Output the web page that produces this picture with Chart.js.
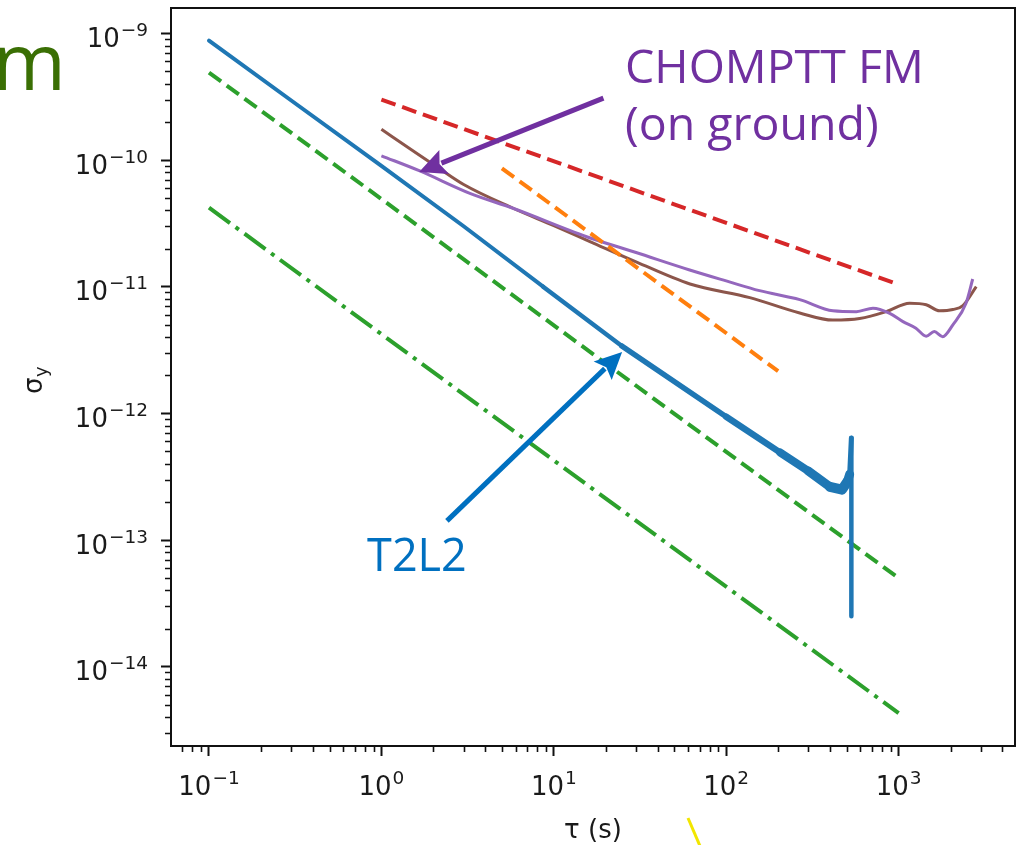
<!DOCTYPE html>
<html><head><meta charset="utf-8">
<script src="https://cdn.jsdelivr.net/npm/chart.js@4/dist/chart.umd.min.js"></script>
<style>html,body{margin:0;padding:0;background:#fff;}canvas{display:block;}</style>
</head><body>
<canvas id="c" width="1026" height="845"></canvas>
<script>
// ---- data (tau in s, sigma_y) ----
const t2l2Tau   = [0.1, 0.3, 1, 3, 8.67, 24.8, 100, 206, 300, 400, 470, 505, 520, 532, 532];
const t2l2Sigma = [8.75e-10, 2.95e-10, 9.0e-11, 3.0e-11, 1.0e-11, 3.4e-12, 9.4e-13, 4.9e-13, 3.5e-13, 2.63e-13, 2.5e-13, 2.9e-13, 3.3e-13, 6.4e-13, 2.5e-14];

const chompttTau   = [1, 1.67, 3.26, 5.8, 15.5, 30, 61.4, 100, 156, 267, 416, 569, 710, 888, 1060, 1260, 1446, 1610, 1800, 2064, 2460, 2690];
const chompttSigma = [1.08e-10, 8.2e-11, 5.46e-11, 4.16e-11, 2.48e-11, 1.86e-11, 1.355e-11, 1.11e-11, 9.3e-12, 7.9e-12, 6.45e-12, 6.35e-12, 6.76e-12, 6.16e-12, 5.3e-12, 4.7e-12, 4.07e-12, 4.42e-12, 4.03e-12, 5.0e-12, 7.4e-12, 1.15e-11];

const brownTau   = [1, 1.5, 2.09, 3, 5.8, 10, 16.2, 30, 61.6, 137, 267, 416, 594, 848, 1158, 1446, 1727, 2064, 2360, 2820];
const brownSigma = [1.75e-10, 1.2e-10, 8.85e-11, 6.4e-11, 4.16e-11, 3.03e-11, 2.27e-11, 1.57e-11, 1.05e-11, 8.2e-12, 6.2e-12, 5.45e-12, 5.6e-12, 6.35e-12, 7.4e-12, 7.2e-12, 6.45e-12, 6.6e-12, 7.1e-12, 1.0e-11];

const greenDashTau      = [0.1, 1000];
const greenDashSigma    = [4.9e-10, 5.0e-14];
const greenDashDotTau   = [0.1, 1000];
const greenDashDotSigma = [4.2e-11, 4.3e-15];
const redDashTau        = [1, 1000];
const redDashSigma      = [3.0e-10, 1.04e-11];
const orangeDashTau     = [5, 200];
const orangeDashSigma   = [8.6e-11, 2.15e-12];

// ---- tick labels (base and exponent) ----
const xTickValues    = [0.1, 1, 10, 100, 1000];
const xTickExponents = ['\u22121', '0', '1', '2', '3'];
const yTickValues    = [1e-14, 1e-13, 1e-12, 1e-11, 1e-10, 1e-9];
const yTickExponents = ['\u221214', '\u221213', '\u221212', '\u221211', '\u221210', '\u22129'];
const tickBase = '10';

// ---- annotations (in data coordinates) ----
const annot = {
  purpleArrow: {from: [19.4, 3.08e-10], to: [1.655, 8.03e-11]},
  blueArrow:   {from: [2.40, 1.415e-13], to: [24.9, 3.05e-12]},
  chomptt1:    {at: [25.9, 4.06e-10], text: 'CHOMPTT FM'},
  chomptt2:    {at: [25.9, 1.43e-10], text: '(on ground)'},
  t2l2:        {at: [0.826, 5.7e-14], text: 'T2L2'}
};

const pts = (xs, ys) => xs.map((x, i) => ({x, y: ys[i]}));
const isMajor = v => Math.abs(Math.log10(v) - Math.round(Math.log10(v))) < 1e-6;

function logTicks(scale) {
  const out = [];
  const lo = Math.floor(Math.log10(scale.min)), hi = Math.ceil(Math.log10(scale.max));
  for (let n = lo; n <= hi; n++) {
    for (let k = 1; k <= 9; k++) {
      const v = k * Math.pow(10, n);
      if (v >= scale.min * 0.9999 && v <= scale.max * 1.0001) out.push({value: v});
    }
  }
  scale.ticks = out;
}

function arrow(ctx, x0, y0, x1, y1, color, w, headLen, headHalf) {
  const dx = x1 - x0, dy = y1 - y0, L = Math.hypot(dx, dy), ux = dx / L, uy = dy / L;
  const bx = x1 - ux * headLen, by = y1 - uy * headLen;
  ctx.strokeStyle = color; ctx.lineWidth = w; ctx.lineCap = 'butt';
  ctx.beginPath(); ctx.moveTo(x0, y0); ctx.lineTo(bx + ux * 3, by + uy * 3); ctx.stroke();
  ctx.fillStyle = color;
  ctx.beginPath();
  ctx.moveTo(x1, y1);
  ctx.lineTo(bx - uy * headHalf, by + ux * headHalf);
  ctx.lineTo(bx + ux * 5, by + uy * 5);
  ctx.lineTo(bx + uy * headHalf, by - ux * headHalf);
  ctx.closePath(); ctx.fill();
}

const BASE_FONT = '26px "DejaVu Sans"', SUP_FONT = '18.5px "DejaVu Sans"', SUP_RAISE = 11;
function powLabelWidth(ctx, exp) {
  ctx.font = BASE_FONT; const wb = ctx.measureText(tickBase).width;
  ctx.font = SUP_FONT; const we = ctx.measureText(exp).width;
  return [wb, we];
}
function drawPowLabel(ctx, exp, left, baseline) {
  const [wb] = powLabelWidth(ctx, exp);
  ctx.textAlign = 'left'; ctx.textBaseline = 'alphabetic';
  ctx.font = BASE_FONT; ctx.fillText(tickBase, left, baseline);
  ctx.font = SUP_FONT; ctx.fillText(exp, left + wb + 1, baseline - SUP_RAISE);
}

const decoPlugin = {
  id: 'deco',
  afterDraw(chart) {
    const {ctx, chartArea: a, scales: {x, y}} = chart;
    const P = (d) => [x.getPixelForValue(d[0]), y.getPixelForValue(d[1])];
    ctx.save();
    // minor ticks
    ctx.strokeStyle = '#111'; ctx.lineWidth = 1.6;
    ctx.beginPath();
    x.ticks.forEach(t => { if (!isMajor(t.value)) { const px = Math.round(x.getPixelForValue(t.value)) + 0.5; ctx.moveTo(px, a.bottom); ctx.lineTo(px, a.bottom + 6); } });
    y.ticks.forEach(t => { if (!isMajor(t.value)) { const py = Math.round(y.getPixelForValue(t.value)) + 0.5; ctx.moveTo(a.left, py); ctx.lineTo(a.left - 6, py); } });
    ctx.stroke();
    // frame
    ctx.strokeStyle = '#111'; ctx.lineWidth = 2;
    ctx.strokeRect(a.left, a.top, a.right - a.left, a.bottom - a.top);

    // tick labels
    ctx.fillStyle = '#1a1a1a';
    xTickValues.forEach((v, i) => {
      const [wb, we] = powLabelWidth(ctx, xTickExponents[i]);
      const cx = x.getPixelForValue(v);
      drawPowLabel(ctx, xTickExponents[i], cx - (wb + we + 1) / 2, 795);
    });
    yTickValues.forEach((v, i) => {
      const [wb, we] = powLabelWidth(ctx, yTickExponents[i]);
      const py = y.getPixelForValue(v);
      drawPowLabel(ctx, yTickExponents[i], 148 - (wb + we + 1), py + 13.5);
    });

    // y-axis title sigma_y (rotated)
    ctx.save();
    ctx.translate(42, 394);
    ctx.rotate(-Math.PI / 2);
    ctx.fillStyle = '#1a1a1a';
    ctx.textBaseline = 'alphabetic'; ctx.textAlign = 'left';
    ctx.font = '26px "DejaVu Sans"';
    ctx.fillText('\u03C3', 0, 0);
    const w = ctx.measureText('\u03C3').width;
    ctx.font = '18px "DejaVu Sans"';
    ctx.fillText('y', w + 0.5, 5);
    ctx.restore();

    // arrows
    let p0 = P(annot.purpleArrow.from), p1 = P(annot.purpleArrow.to);
    arrow(ctx, p0[0], p0[1], p1[0], p1[1], '#7030a0', 5, 27, 13);
    p0 = P(annot.blueArrow.from); p1 = P(annot.blueArrow.to);
    arrow(ctx, p0[0], p0[1], p1[0], p1[1], '#0070c0', 5, 27, 13);

    // annotation texts
    ctx.textBaseline = 'alphabetic'; ctx.textAlign = 'left';
    ctx.font = '46.5px "Open Sans"';
    ctx.fillStyle = '#7030a0';
    let q = P(annot.chomptt1.at); ctx.fillText(annot.chomptt1.text, q[0], q[1]);
    q = P(annot.chomptt2.at); ctx.fillText(annot.chomptt2.text, q[0], q[1]);
    ctx.font = '45px "Open Sans"';
    ctx.fillStyle = '#0070c0';
    q = P(annot.t2l2.at); ctx.fillText(annot.t2l2.text, q[0], q[1]);

    // slide fragments outside the axes
    ctx.fillStyle = '#3a6f04';
    ctx.font = '79px "Open Sans"';
    ctx.textAlign = 'right';
    ctx.fillText('m', 66, 90);
    ctx.strokeStyle = '#f2e600'; ctx.lineWidth = 3;
    ctx.beginPath(); ctx.moveTo(688, 818); ctx.lineTo(700, 846); ctx.stroke();
    ctx.restore();
  }
};

const blueWidths = [4, 4, 4, 4, 4.5, 5.5, 6.5, 8, 9, 10, 10, 9, 5, 4.5];
const majorTickColor = c => (c.tick && isMajor(c.tick.value)) ? '#111' : 'rgba(0,0,0,0)';

new Chart(document.getElementById('c'), {
  type: 'scatter',
  data: {
    datasets: [
      {label: 'T2L2', data: pts(t2l2Tau, t2l2Sigma), showLine: true, borderColor: '#1f77b4', borderWidth: 4,
       pointRadius: 0, tension: 0, borderJoinStyle: 'round', borderCapStyle: 'round',
       segment: {borderWidth: c => blueWidths[c.p0DataIndex]}},
      {label: 'orange', data: pts(orangeDashTau, orangeDashSigma), showLine: true, borderColor: '#ff7f0e', borderWidth: 4, borderDash: [15, 7], pointRadius: 0},
      {label: 'red', data: pts(redDashTau, redDashSigma), showLine: true, borderColor: '#d62728', borderWidth: 4, borderDash: [15, 7], pointRadius: 0},
      {label: 'CHOMPTT FM', data: pts(chompttTau, chompttSigma), showLine: true, borderColor: '#9467bd', borderWidth: 3, pointRadius: 0, cubicInterpolationMode: 'monotone'},
      {label: 'brown', data: pts(brownTau, brownSigma), showLine: true, borderColor: '#8c564b', borderWidth: 3, pointRadius: 0, cubicInterpolationMode: 'monotone'},
      {label: 'green dashed', data: pts(greenDashTau, greenDashSigma), showLine: true, borderColor: '#2ca02c', borderWidth: 4, borderDash: [15, 7], pointRadius: 0},
      {label: 'green dash-dot', data: pts(greenDashDotTau, greenDashDotSigma), showLine: true, borderColor: '#2ca02c', borderWidth: 4, borderDash: [26, 7, 4, 7], pointRadius: 0}
    ]
  },
  options: {
    responsive: false, animation: false, events: [],
    layout: {padding: {top: 8, right: 11, left: 0, bottom: 0}},
    plugins: {legend: {display: false}, tooltip: {enabled: false}},
    scales: {
      x: {
        type: 'logarithmic', position: 'bottom', min: 0.0602, max: 4732,
        afterBuildTicks: logTicks,
        afterFit: s => { s.height = 99; s.paddingLeft = 0; s.paddingRight = 0; },
        border: {display: true, color: '#111', width: 2},
        grid: {display: true, drawOnChartArea: false, drawTicks: true, tickLength: 10, tickWidth: 2, tickColor: majorTickColor},
        ticks: {display: false, autoSkip: false},
        title: {display: true, text: '\u03C4 (s)', color: '#1a1a1a', font: {family: 'DejaVu Sans', size: 26}, padding: {top: 0, bottom: -2}}
      },
      y: {
        type: 'logarithmic', position: 'left', min: 2.365e-15, max: 1.585e-9,
        afterBuildTicks: logTicks,
        afterFit: s => { s.width = 171; s.paddingTop = 0; s.paddingBottom = 0; },
        border: {display: true, color: '#111', width: 2},
        grid: {display: true, drawOnChartArea: false, drawTicks: true, tickLength: 10, tickWidth: 2, tickColor: majorTickColor},
        ticks: {display: false, autoSkip: false},
        title: {display: false}
      }
    }
  },
  plugins: [decoPlugin]
});
</script>
</body></html>
